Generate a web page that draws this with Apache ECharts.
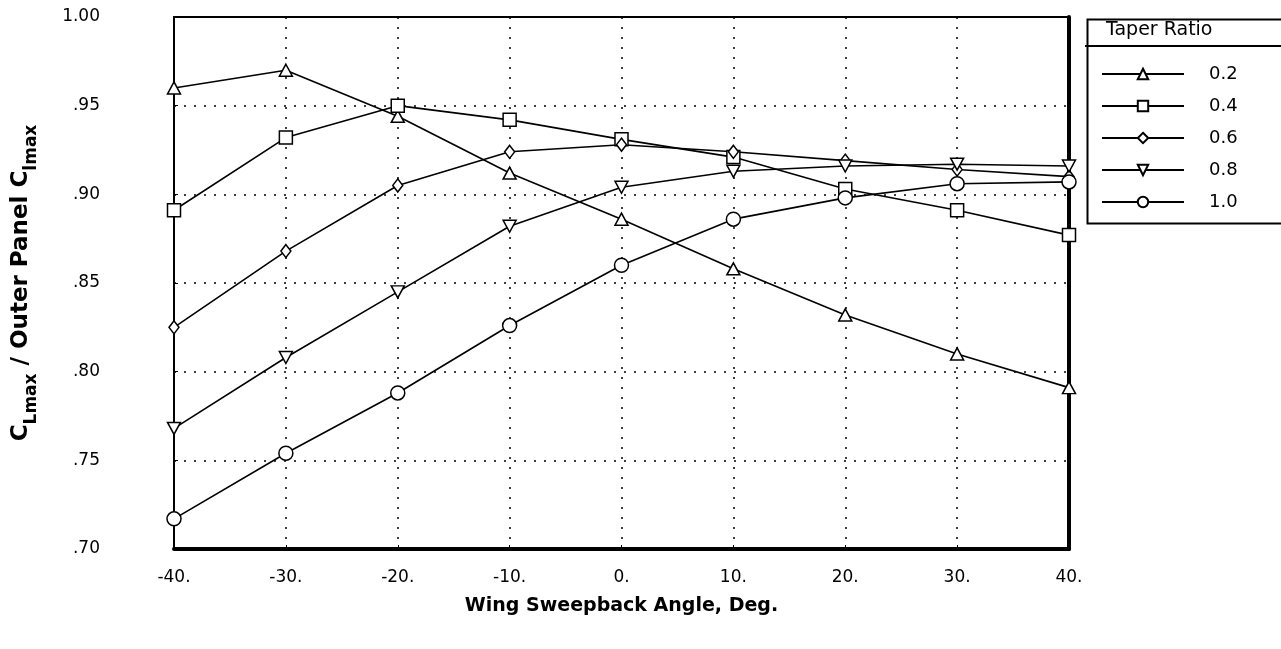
<!DOCTYPE html>
<html><head><meta charset="utf-8">
<style>html,body{margin:0;padding:0;background:#fff}#c{width:1281px;height:649px}</style>
<script src="https://cdn.jsdelivr.net/npm/echarts@6/dist/echarts.min.js"></script>
</head><body><div id="c"></div>
<script>
var angles = [-40, -30, -20, -10, 0, 10, 20, 30, 40];
var taperNames = ['0.2', '0.4', '0.6', '0.8', '1.0'];
var taper02 = [0.960, 0.970, 0.944, 0.912, 0.886, 0.858, 0.832, 0.810, 0.791];
var taper04 = [0.891, 0.932, 0.950, 0.942, 0.931, 0.921, 0.903, 0.891, 0.877];
var taper06 = [0.825, 0.868, 0.905, 0.924, 0.928, 0.924, 0.919, 0.914, 0.910];
var taper08 = [0.768, 0.808, 0.845, 0.882, 0.904, 0.913, 0.916, 0.917, 0.916];
var taper10 = [0.717, 0.754, 0.788, 0.826, 0.860, 0.886, 0.898, 0.906, 0.907];
var yTicks = [0.70, 0.75, 0.80, 0.85, 0.90, 0.95, 1.00];

var allData = [taper02, taper04, taper06, taper08, taper10];
var symbols = ['triangle', 'rect', 'diamond', 'triangle', 'circle'];
var sizes = [[13, 12], [13, 13], [10, 13], [13, 12], [14, 14]];
var rotates = [0, 0, 0, 180, 0];
var FONT = 'DejaVu Sans';

var series = allData.map(function (d, i) {
  return {
    name: taperNames[i], type: 'line',
    data: d.map(function (v, j) { return [angles[j], v]; }),
    symbol: symbols[i], symbolSize: sizes[i], symbolRotate: rotates[i],
    showAllSymbol: true, clip: false,
    lineStyle: { color: '#000', width: 1.6 },
    itemStyle: { color: '#fff', borderColor: '#000', borderWidth: 1.5 },
    emphasis: { disabled: true }, animation: false, z: 5
  };
});

var chart = echarts.init(document.getElementById('c'), null, { renderer: 'canvas' });
chart.setOption({
  animation: false,
  backgroundColor: '#fff',
  grid: { left: 174, right: 212, top: 17, bottom: 100, show: true, borderColor: '#000', borderWidth: 2, backgroundColor: 'transparent', containLabel: false, outerBoundsMode: 'none' },
  xAxis: {
    type: 'value', min: -40, max: 40, interval: 10,
    name: 'Wing Sweepback Angle, Deg.', nameLocation: 'middle', nameGap: 48,
    nameTextStyle: { fontFamily: FONT, fontWeight: 'bold', fontSize: 19, color: '#000' },
    axisLine: { show: true, onZero: false, lineStyle: { color: '#000', width: 4 } },
    axisTick: { show: true, inside: true, length: 4, lineStyle: { color: '#000', width: 1 } },
    axisLabel: { fontFamily: FONT, fontSize: 17, color: '#000', margin: 20, formatter: function (v) { return v + '.'; } },
    splitLine: { show: true, lineStyle: { color: '#000', type: [2, 8], width: 1.5 } }
  },
  yAxis: [{
    type: 'value', min: yTicks[0], max: yTicks[yTicks.length - 1], interval: 0.05,
    name: '{b|C}{s|Lmax}{b| / Outer Panel C}{s|lmax}', nameLocation: 'middle', nameGap: 134,
    nameTextStyle: {
      fontFamily: FONT, fontWeight: 'bold', fontSize: 23, color: '#000',
      rich: {
        b: { fontFamily: FONT, fontWeight: 'bold', fontSize: 23, color: '#000', lineHeight: 30, verticalAlign: 'top' },
        s: { fontFamily: FONT, fontWeight: 'bold', fontSize: 17, color: '#000', lineHeight: 30, verticalAlign: 'bottom', padding: [12, 0, 0, 0] }
      }
    },
    axisLine: { show: true, onZero: false, lineStyle: { color: '#000', width: 2 } },
    axisTick: { show: true, inside: true, length: 4, lineStyle: { color: '#000' } },
    axisLabel: {
      fontFamily: FONT, fontSize: 17, color: '#000', margin: 74, align: 'right',
      formatter: function (v) { var s = v.toFixed(2); return Math.abs(v - 1) < 1e-9 ? '1.00' : s.replace(/^0/, ''); }
    },
    splitLine: { show: true, lineStyle: { color: '#000', type: [2, 8], width: 1.5 } }
  }, {
    type: 'value', position: 'right', min: yTicks[0], max: yTicks[yTicks.length - 1], interval: 0.05,
    axisLine: { show: true, onZero: false, lineStyle: { color: '#000', width: 4 } },
    axisTick: { show: false }, axisLabel: { show: false }, splitLine: { show: false }
  }],
  legend: {
    orient: 'vertical', left: 1096, top: 60, itemWidth: 82, itemHeight: 13, itemGap: 14,
    textStyle: { fontFamily: FONT, fontSize: 18, color: '#000', padding: [0, 0, 0, 20] },
    data: taperNames, selectedMode: false
  },
  graphic: [
    { type: 'rect', left: 1085, top: 17, shape: { width: 210, height: 204 }, style: { fill: 'none', stroke: '#000', lineWidth: 2 }, z: 0 },
    { type: 'line', shape: { x1: 1085, y1: 46, x2: 1295, y2: 46 }, style: { stroke: '#000', lineWidth: 2 } },
    { type: 'text', left: 1106, top: 21, style: { text: 'Taper Ratio', font: '19px "DejaVu Sans"', fill: '#000' } }
  ],
  series: series
});
</script></body></html>
